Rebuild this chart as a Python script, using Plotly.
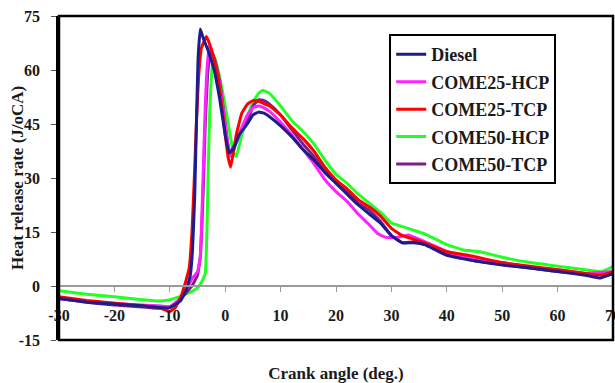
import plotly.graph_objects as go

# ---------------- data ----------------
diesel_x = [-30, -25, -20, -15, -12, -10, -8, -7, -6.3, -5.9, -5.5, -5.2, -4.9, -4.5, -4, -3, -2, -1, 0, 0.7,
            1.5, 2.5, 3.5, 4.2, 5, 6, 7, 8, 10, 12, 14, 16, 18, 20, 22, 24, 26, 28, 30, 32, 34, 36, 38,
            40, 45, 50, 55, 60, 65, 67.7, 70]
diesel_y = [-3.5, -4.5, -5, -5.5, -6, -6, -4, -1, 3, 10, 25, 45, 63, 71.4, 69, 65, 60, 52, 42, 37,
            38, 42, 44, 45.5, 47.5, 48.3, 48, 47, 44.5, 41.5, 38, 35, 31.5, 28.5, 25.5, 22.5, 20, 17.5, 14, 12, 12, 11.5, 10,
            8.5, 7, 5.8, 5, 4, 3, 2.2, 3.4]

c25h_x = [-30, -25, -20, -15, -12, -10, -8.5, -7, -6, -5, -4.5, -4.2, -3.9, -3.6, -3.3, -2.9, -2.5, -2, -1, 0, 0.5, 1,
          2, 3, 4, 5, 6, 7, 8, 10, 12, 14, 16, 18, 20, 22, 24, 26, 27.5, 29, 31, 33, 35, 38, 40.7,
          45, 50, 55, 60, 65, 70]
c25h_y = [-3.5, -4.3, -4.8, -5.3, -5.5, -5.7, -4, -1, 2, 4, 8, 20, 35, 50, 60, 66.5, 65.5, 63, 56, 45, 39, 36,
          40, 44, 47.5, 49.5, 50, 49.5, 48.5, 45.5, 42, 38, 34, 29.5, 26.2, 23.5, 20, 17, 14.6, 13.5, 13.5, 14.2, 13, 11, 9.2,
          7.5, 6.5, 5.3, 4.5, 3.5, 4]

c25t_x = [-30, -25, -20, -15, -12, -10, -9, -8, -7, -6.5, -6, -5.6, -5.2, -4.8, -4.3, -3.4, -3, -2, -1, 0, 0.5, 1,
          2, 3, 4, 5, 6, 8, 10, 12, 14, 16, 18, 20, 22, 24, 26, 28, 30, 32, 34, 36, 40, 44,
          50, 55, 60, 65, 68, 70]
c25t_y = [-3, -4, -4.8, -5.5, -6, -7.1, -6, -3, 2, 5, 15, 29, 45, 58, 66, 69.3, 68, 63, 55, 42, 36, 33,
          42, 48, 50.5, 51.5, 51.3, 50, 47.5, 44, 41, 37.5, 33, 29.5, 27, 24, 22, 19.5, 16, 14, 13, 12, 9.5, 8.5,
          6.5, 5.5, 4.5, 3.5, 3, 4]

c50h_x = [-30, -25, -20, -15, -12, -10, -8, -6, -5, -4.3, -3.6, -3.3, -3.1, -2.8, -2.5, -2.2, -1.8, -1, 0, 1, 1.5, 2,
          3, 4, 5, 6, 6.8, 8, 10, 12, 14, 16, 18, 20, 22, 24, 26, 28, 30, 32, 34, 36, 38, 40, 43, 46,
          50, 55, 60, 65, 68, 70]
c50h_y = [-1.3, -2.3, -3, -3.8, -4.2, -3.8, -2.8, -1.5, -0.5, 1, 3.5, 15, 30, 48, 58, 63.7, 63, 58, 50, 41, 37, 36,
          42, 47, 51, 53.5, 54.4, 53.5, 50, 46, 43, 39.5, 35, 31, 28.5, 25.5, 23, 20.5, 17.5, 16.5, 15.5, 14.5, 13, 11.5, 10, 9.5,
          8, 6.5, 5.5, 4.5, 4, 5.4]

c50t_x = [-30, -25, -20, -15, -13, -10, -8, -6, -5, -4.5, -4, -3.6, -3.2, -2.8, -2.5, -2, -1, 0, 0.8,
          2, 3, 4.1, 5, 6, 7, 8, 10, 12, 14, 16, 18, 20, 22, 24, 26, 28, 30, 32, 34, 36, 40,
          45, 50, 55, 60, 65, 70]
c50t_y = [-3.5, -4.5, -5.3, -5.8, -6.1, -6, -3.5, 0, 3, 8, 25, 45, 58, 64, 65, 63.5, 57, 45, 37,
          40, 43.5, 46, 50, 51.7, 51.5, 50.5, 47.5, 43.5, 39.5, 36, 32, 29, 26, 23, 21, 18, 14, 12, 12.3, 11.5, 9,
          7, 6, 5, 4, 3.5, 3.5]

series_names = ["Diesel", "COME25-HCP", "COME25-TCP", "COME50-HCP", "COME50-TCP"]
series_x = [diesel_x, c25h_x, c25t_x, c50h_x, c50t_x]
series_y = [diesel_y, c25h_y, c25t_y, c50h_y, c50t_y]
series_colors = ["#1c1c8c", "#ff22ff", "#ff0000", "#22ff22", "#7a1f86"]

x_ticks = [-30, -20, -10, 0, 10, 20, 30, 40, 50, 60, 70]
y_ticks = [-15, 0, 15, 30, 45, 60, 75]
y_title = "Heat release rate (J/oCA)"
x_title = "Crank angle (deg.)"

FONT = "Liberation Serif"

fig = go.Figure()
# draw order: put Diesel on top like the reference
order = [3, 4, 1, 2, 0]
for i in order:
    fig.add_trace(go.Scatter(
        x=series_x[i], y=series_y[i], mode="lines", name=series_names[i],
        line=dict(color=series_colors[i], width=3, shape="spline", smoothing=0.3),
        legendrank=i + 1, legendgroup=series_names[i],
    ))

fig.update_layout(
    width=615, height=383,
    margin=dict(l=59, r=2, t=16, b=43, autoexpand=False),
    paper_bgcolor="white", plot_bgcolor="white",
    font=dict(family=FONT, size=16, color="#111111"),
    showlegend=True,
    legend=dict(
        x=0.596, y=0.944, xanchor="left", yanchor="top",
        bgcolor="white", bordercolor="black", borderwidth=2,
        font=dict(family=FONT, size=18, color="#1a1a1a", weight="bold"),
        traceorder="grouped", tracegroupgap=1, itemwidth=30,
    ),
    xaxis=dict(
        range=[-30, 70], tickvals=x_ticks, ticktext=[f"<b>{t}</b>" for t in x_ticks],
        anchor="free", position=15 / 90, automargin=False,
        showline=True, linecolor="#9a9a9a", linewidth=1.5,
        ticks="outside", ticklen=5, tickcolor="#9a9a9a", tickwidth=1,
        ticklabelstandoff=10, ticklabeloverflow="allow",
        showgrid=False, zeroline=False,
        tickfont=dict(family=FONT, size=16, color="#1a1a1a"),
        title=dict(text=f"<b>{x_title}</b>", standoff=43,
                   font=dict(family=FONT, size=17, color="#1a1a1a")),
    ),
    yaxis=dict(
        range=[-15, 75], tickvals=y_ticks, ticktext=[f"<b>{t}</b>" for t in y_ticks],
        automargin=False,
        showline=True, linecolor="black", linewidth=2.5,
        ticks="outside", ticklen=5, tickcolor="#555555",
        ticklabelstandoff=8,
        showgrid=False, zeroline=False,
        tickfont=dict(family=FONT, size=16, color="#1a1a1a"),
    ),
    annotations=[dict(text=f"<b>{y_title}</b>", xref="paper", yref="paper",
                      x=(17 - 59) / 554, y=0.5, xanchor="center", yanchor="middle",
                      textangle=-90, showarrow=False,
                      font=dict(family=FONT, size=17, color="#1a1a1a"))],
    shapes=[dict(type="rect", xref="paper", yref="paper", x0=0, x1=1, y0=0, y1=1,
                 line=dict(color="black", width=2.5), fillcolor="rgba(0,0,0,0)", layer="above")],
)

fig.write_html("out.html")
